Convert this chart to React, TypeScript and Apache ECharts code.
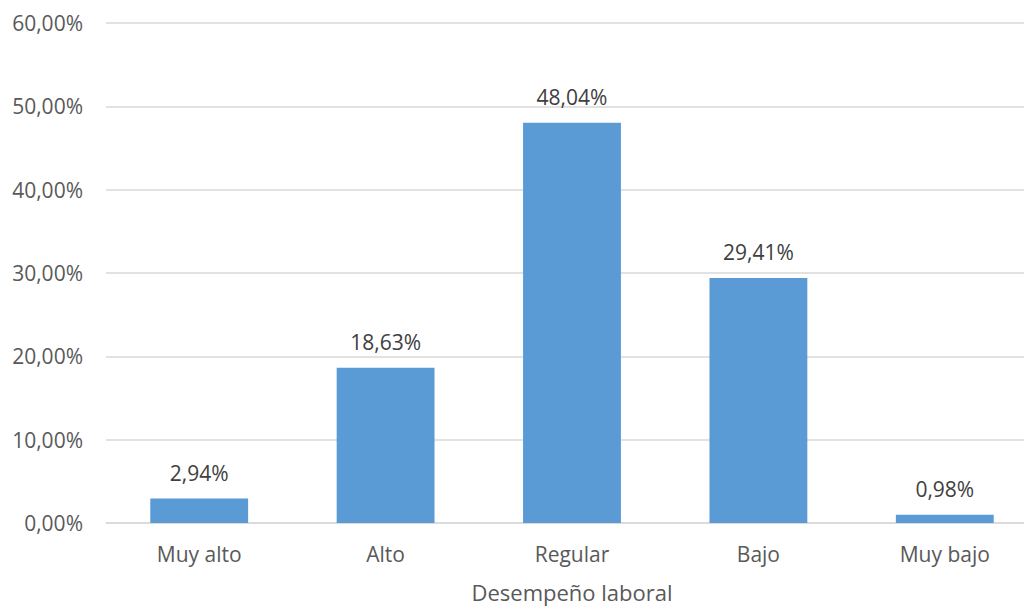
import React, { useEffect, useRef } from "react";
import * as echarts from "echarts";

const categories = ["Muy alto", "Alto", "Regular", "Bajo", "Muy bajo"];
const values = [2.94, 18.63, 48.04, 29.41, 0.98];
const axisName = "Desempeño laboral";

const fmt = (v: number) => v.toFixed(2).replace(".", ",") + "%";
const FONT = "'Open Sans', 'Noto Sans', sans-serif";
const TXT = "#595959";

export default function App() {
  const ref = useRef<HTMLDivElement>(null);
  useEffect(() => {
    if (!ref.current) return;
    const chart = echarts.init(ref.current, null, { renderer: "svg" });
    chart.setOption({
      animation: false,
      backgroundColor: "#ffffff",
      grid: { left: 106, right: 2, top: 23, bottom: 78.5, containLabel: false },
      xAxis: {
        type: "category",
        data: categories,
        name: axisName,
        nameLocation: "middle",
        nameGap: 58,
        nameTextStyle: { color: TXT, fontSize: 22, fontFamily: FONT },
        axisLine: { lineStyle: { color: "#d9d9d9", width: 1.5 } },
        axisTick: { show: false },
        axisLabel: { color: TXT, fontSize: 21, fontFamily: FONT, margin: 20 },
      },
      yAxis: {
        type: "value",
        min: 0,
        max: 60,
        interval: 10,
        axisLine: { show: false },
        axisTick: { show: false },
        splitLine: { lineStyle: { color: "#d9d9d9", width: 1.5 } },
        axisLabel: {
          color: TXT,
          fontSize: 21,
          fontFamily: FONT,
          margin: 23,
          formatter: (v: number) => fmt(v),
        },
      },
      series: [
        {
          type: "bar",
          data: values,
          barWidth: "52.5%",
          itemStyle: { color: "#5B9BD5" },
          label: {
            show: true,
            position: "top",
            distance: 15,
            color: "#404040",
            fontSize: 21,
            fontFamily: FONT,
            formatter: (p: any) => fmt(p.value),
          },
        },
      ],
    });
    return () => chart.dispose();
  }, []);
  return (
    <div
      style={{
        position: "fixed",
        left: 0,
        top: 0,
        width: 1024,
        height: 608,
        overflow: "hidden",
        background: "#fff",
      }}
    >
      <div ref={ref} style={{ width: 1040, height: 608 }} />
    </div>
  );
}
